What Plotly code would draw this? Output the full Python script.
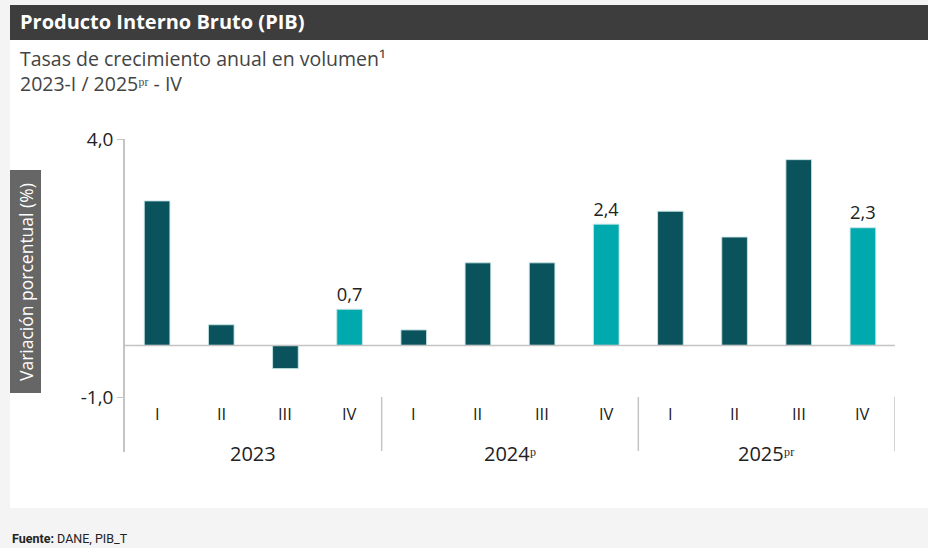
import plotly.graph_objects as go

# ---- data ----
quarters = ["I", "II", "III", "IV"] * 3
years = ["2023", "2024ᵖ", "2025ᵖʳ"]
values = [2.8, 0.4, -0.45, 0.7, 0.3, 1.6, 1.6, 2.35, 2.6, 2.1, 3.6, 2.28]
iv_labels = ["0,7", "2,4", "2,3"]
ytick_vals = [-1.0, 4.0]
ytick_text = ["-1,0", "4,0"]

W, H = 928, 548
L, R, T, B = 125, 33, 139, 96
PW, PH = W - L - R, H - T - B

def px(x):
    return (x - L) / PW

def py(y):
    return 1 - (y - T) / PH

DARK = "#0b535c"
LIGHT = "#00a9ae"
xs = list(range(len(values)))
x_dark = [x for x, q in zip(xs, quarters) if q != "IV"]
y_dark = [v for v, q in zip(values, quarters) if q != "IV"]
x_iv = [x for x, q in zip(xs, quarters) if q == "IV"]
y_iv = [v for v, q in zip(values, quarters) if q == "IV"]

edge = dict(color="rgba(200,230,230,0.9)", width=1)
fig = go.Figure()
fig.add_trace(go.Bar(x=x_dark, y=y_dark, width=0.4, marker=dict(color=DARK, line=edge), hoverinfo="skip"))
fig.add_trace(go.Bar(
    x=x_iv, y=y_iv, width=0.4, marker=dict(color=LIGHT, line=edge),
    text=iv_labels, textposition="outside", cliponaxis=False,
    textfont=dict(family="Open Sans", size=20, color="#222"), hoverinfo="skip",
))

shapes = []
# page panels
shapes.append(dict(type="rect", xref="paper", yref="paper", x0=px(10), x1=px(928), y0=py(40), y1=py(508),
                   fillcolor="white", line=dict(width=0), layer="below"))
shapes.append(dict(type="rect", xref="paper", yref="paper", x0=px(10), x1=px(928), y0=py(5), y1=py(40),
                   fillcolor="#3d3d3d", line=dict(width=0), layer="below"))
shapes.append(dict(type="rect", xref="paper", yref="paper", x0=px(10), x1=px(41), y0=py(170), y1=py(393),
                   fillcolor="#666666", line=dict(width=0), layer="below"))
# zero line
shapes.append(dict(type="line", xref="paper", yref="y", x0=0, x1=1, y0=0, y1=0,
                   line=dict(color="#c4c4c4", width=1.5)))
# group separators
for sx in [3.5, 7.5, 11.5]:
    shapes.append(dict(type="line", xref="x", yref="paper", x0=sx, x1=sx, y0=py(397), y1=py(451),
                       line=dict(color="#c4c4c4", width=1.5)))

def A(x, y, text, size, color, xanchor="center", xref="paper", angle=0, family="Open Sans", align="center"):
    return dict(x=x, y=y, xref=xref, yref="paper", text=text, showarrow=False,
                xanchor=xanchor, yanchor="middle", textangle=angle, align=align,
                font=dict(family=family, size=size, color=color))

ann = []
for i, q in enumerate(quarters):
    ann.append(A(i, py(413), q, 16.5, "#222222", xref="x"))
for g, yr in enumerate(years):
    ann.append(A(g * 4 + 1.5, py(453), yr, 20, "#222222", xref="x"))
ann.append(A(px(18), py(22), "<b>Producto Interno Bruto (PIB)</b>", 20, "white", xanchor="left"))
ann.append(A(px(18), py(70.5),
             "Tasas de crecimiento anual en volumen¹<br>2023-I / 2025ᵖʳ - IV",
             19.5, "#444444", xanchor="left", align="left"))
ann.append(A(px(26), py(282), "Variación porcentual (%)", 17.5, "white", angle=-90))
ann.append(A(px(10), py(538), "<b>Fuente:</b> DANE, PIB_T", 12.5, "#222222", xanchor="left", family="Roboto"))

fig.update_layout(
    width=W, height=H,
    margin=dict(l=L, r=R, t=T, b=B, pad=0),
    paper_bgcolor="#f4f4f4", plot_bgcolor="rgba(0,0,0,0)",
    showlegend=False, barmode="overlay",
    shapes=shapes, annotations=ann,
    xaxis=dict(range=[-0.5, 11.5], showticklabels=False, showgrid=False, zeroline=False, ticks="",
               fixedrange=True),
    yaxis=dict(range=[-2.066, 4.0], tickvals=ytick_vals, ticktext=ytick_text, showgrid=False, zeroline=False,
               showline=True, linecolor="#c4c4c4", linewidth=1.5, ticks="outside", ticklen=6,
               tickcolor="#c4c4c4", tickfont=dict(family="Open Sans", size=19, color="#222"),
               fixedrange=True),
)

fig.write_html("out.html", config={"displayModeBar": False},
               post_script="document.body.style.margin='0';")
